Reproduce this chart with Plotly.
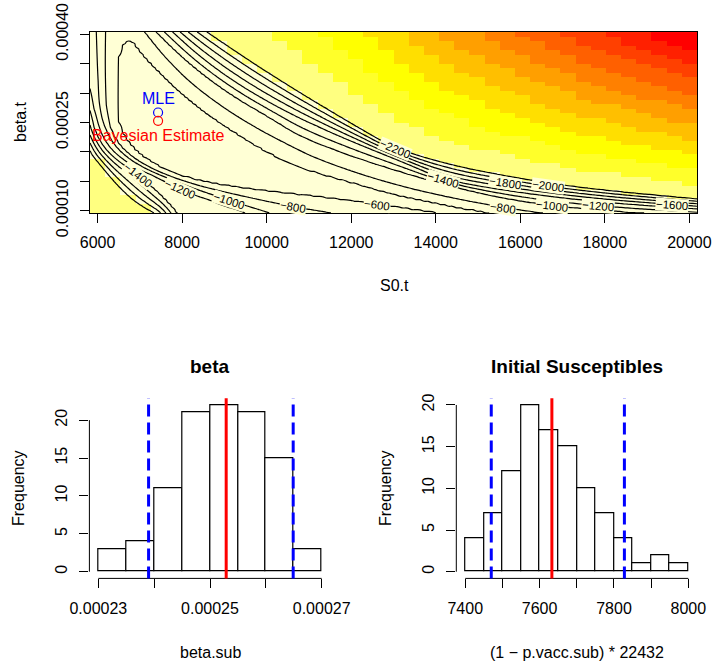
import numpy as np
import plotly.graph_objects as go

# ======================= data =======================
# grid of the likelihood image (40 x 40, as in the original image)
S0_t = np.linspace(6000, 20000, 40)
beta_t = np.linspace(0.0001, 0.0004, 40)

# traced contour paths (S0, beta) of the log-likelihood surface
mle_loglik = -450
contour_m600 = [(14340, 0.0000898), (14110, 0.0000949), (12620, 0.0001102), (11180, 0.0001238),
                (9620, 0.0001357), (8440, 0.0001492), (7610, 0.0001679), (7020, 0.0001934),
                (6670, 0.0002188), (6500, 0.0002443), (6460, 0.0002698), (6460, 0.0003207),
                (6480, 0.0003632), (6600, 0.0003852), (6730, 0.0003908), (6860, 0.0003869),
                (6980, 0.0003750), (7210, 0.0003547), (7490, 0.0003343), (7970, 0.0003003),
                (8560, 0.0002664), (9380, 0.0002273), (10090, 0.0001968), (10800, 0.0001730),
                (11980, 0.0001492), (13160, 0.0001255), (14340, 0.0001085), (15050, 0.0001000),
                (15520, 0.0000932), (15990, 0.0000847)]
upper_levels = [-800, -1000, -1400, -2200]
upper_m800 = [(7160, 0.0004005), (7380, 0.0003801), (7680, 0.0003547), (8200, 0.0003173),
              (8910, 0.0002783), (9740, 0.0002409), (10560, 0.0002104), (11180, 0.0001883),
              (12450, 0.0001560), (13870, 0.0001289), (15590, 0.0001051), (16700, 0.0000949)]
upper_m1000 = [(7440, 0.0004005), (7850, 0.0003716), (8440, 0.0003343), (9270, 0.0002919),
               (10090, 0.0002579), (10800, 0.0002256), (11980, 0.0001934), (13160, 0.0001662),
               (14340, 0.0001424), (15520, 0.0001221), (16750, 0.0001085), (18360, 0.0000983),
               (20170, 0.0000915)]
upper_m1400 = [(7830, 0.0004005), (8320, 0.0003683), (9030, 0.0003292), (9860, 0.0002919),
               (10800, 0.0002562), (11980, 0.0002188), (13160, 0.0001849), (14180, 0.0001526),
               (15520, 0.0001357), (16940, 0.0001221), (18360, 0.0001119), (20170, 0.0001034)]
upper_m2200 = [(8660, 0.0004005), (9150, 0.0003767), (9860, 0.0003428), (10800, 0.0003003),
               (11980, 0.0002494), (13040, 0.0002053), (14340, 0.0001781), (15640, 0.0001594),
               (16940, 0.0001441), (18360, 0.0001323), (20170, 0.0001204)]
lower_levels = [-800, -1000, -1200, -1400, -2200]
lower_m800 = [(6170, 0.0004005), (6170, 0.0003207), (6220, 0.0002613), (6360, 0.0002273),
              (6670, 0.0001985), (7260, 0.0001713), (8200, 0.0001458), (9380, 0.0001255),
              (10630, 0.0001068), (11510, 0.0000966), (11980, 0.0000898)]
lower_m1000 = [(5980, 0.0004005), (6010, 0.0003207), (6050, 0.0002698), (6200, 0.0002358),
               (6500, 0.0002019), (7020, 0.0001747), (7970, 0.0001458), (9120, 0.0001170),
               (9900, 0.0001000), (10330, 0.0000898)]
lower_m1200 = [(5700, 0.0004005), (5820, 0.0002986), (5960, 0.0002613), (6100, 0.0002273),
               (6380, 0.0001985), (6930, 0.0001713), (7490, 0.0001543), (7940, 0.0001374),
               (8680, 0.0001170), (9380, 0.0001000), (9740, 0.0000898)]
lower_m1400 = [(5460, 0.0004005), (5840, 0.0002613), (5980, 0.0002256), (6310, 0.0001934),
               (6930, 0.0001628), (7380, 0.0001340), (7680, 0.0001119), (7870, 0.0000949),
               (7970, 0.0000864)]
lower_m2200 = [(5370, 0.0002868), (5790, 0.0002019), (6080, 0.0001764), (6430, 0.0001458),
               (6790, 0.0001204), (7140, 0.0001034), (7380, 0.0000949), (7490, 0.0000864)]
ridge_line = [(6710, 0.0004005), (6740, 0.0003903), (6900, 0.0003547), (7140, 0.0003122),
              (7420, 0.0002664), (8200, 0.0002188), (9620, 0.0001713), (10800, 0.0001509),
              (12620, 0.0001238), (14110, 0.0001034), (15520, 0.0000796)]
# fall-off of the surface beyond the outer (-2200) contours, per screen pixel (from the colour bands)
falloff_upper_S0 = [5000, 8700, 10150, 15020, 20000, 22000]
falloff_upper = [40, 42, 47, 75, 113, 113]
falloff_lower = 45

# contour labels as printed on the reference (text, S0, beta, angle along the line)
label_text = ["\u22122200", "\u22121400", "\u22121800", "\u22122000", "\u2212800", "\u22121000",
              "\u22121200", "\u22121600", "\u22121400", "\u22121200", "\u22121000", "\u2212800",
              "\u2212600"]
label_S0 = [13040, 14180, 15640, 16660, 15590, 16750, 17840, 19580, 6950, 7940, 9120, 10630, 12620]
label_beta = [0.0002053, 0.0001526, 0.0001467, 0.0001416, 0.0001051, 0.0001085, 0.0001085,
              0.0001102, 0.0001610, 0.0001374, 0.0001170, 0.0001068, 0.0001102]
label_angle = [23, 16, 9, 8, 9, 7, 5, 4, 38, 24, 18, 10, 8]

mle_S0, mle_beta = 7431, 0.000267
bayes_S0, bayes_beta = 7431, 0.0002528

beta_bin_left = [0.00023, 0.000235, 0.00024, 0.000245, 0.00025, 0.000255, 0.00026, 0.000265]
beta_counts = [3, 4, 11, 21, 22, 21, 15, 3]
beta_mean = 0.0002529
beta_ci = [0.000239, 0.0002649]

s0_bin_left = [7400, 7450, 7500, 7550, 7600, 7650, 7700, 7750, 7800, 7850, 7900, 7950]
s0_counts = [4, 7, 12, 20, 17, 15, 10, 7, 4, 1, 2, 1]
s0_mean = 7633
s0_ci = [7470, 7828]

heat = ["#FF0000", "#FF2000", "#FF4000", "#FF6000", "#FF8000", "#FF9F00",
        "#FFBF00", "#FFDF00", "#FFFF00", "#FFFF2A", "#FFFF80", "#FFFFD5"]

# ======================= surface tables for the image / contour traces =======================
def to_px(pts):
    a = np.asarray(pts, float)
    return np.stack([96.7 + (a[:, 0] - 6000) * 0.042354, 210 - (a[:, 1] - 0.0001) * 589000], -1)

def chaikin(p, n=3, closed=False):
    for _ in range(n):
        q = p if not closed else np.vstack([p, p[:1]])
        a, b = q[:-1], q[1:]
        mid = np.empty((2 * len(a), 2))
        mid[0::2] = 0.75 * a + 0.25 * b
        mid[1::2] = 0.25 * a + 0.75 * b
        p = mid if closed else np.vstack([q[:1], mid, q[-1:]])
    return p

def extend(p, L=400.0):
    d0 = p[0] - p[1]; d0 /= np.hypot(*d0)
    d1 = p[-1] - p[-2]; d1 /= np.hypot(*d1)
    return np.vstack([p[0] + L * d0, p, p[-1] + L * d1])

def seg_dist(X, Y, poly):
    P = np.stack([X, Y], -1)[..., None, :]
    A = poly[:-1]; B = poly[1:]
    AB = B - A
    t = np.clip(((P - A) * AB).sum(-1) / (AB * AB).sum(-1), 0, 1)
    proj = A + t[..., None] * AB
    return np.sqrt(((P - proj) ** 2).sum(-1)).min(-1)

def inside(X, Y, poly):
    x = X[..., None]; y = Y[..., None]
    xi = poly[:, 0]; yi = poly[:, 1]
    xj = np.roll(xi, 1); yj = np.roll(yi, 1)
    cond = ((yi > y) != (yj > y)) & (x < (xj - xi) * (y - yi) / (yj - yi + 1e-12) + xi)
    return (cond.sum(-1) % 2) == 1

def poly_upper_curve(e):
    return np.vstack([e, [e[-1][0], 3000], [-3000, 3000], [-3000, e[0][1]]])

def poly_lower_curve(e):
    return np.vstack([e, [3000, e[-1][1]], [3000, -3000], [e[0][0], -3000]])

def surface(S, B):
    X = 96.7 + (S - 6000) * 0.042354
    Y = 210 - (B - 0.0001) * 589000
    loop = chaikin(to_px(contour_m600), 3, closed=True)
    loop_c = np.vstack([loop, loop[:1]])
    d600 = seg_dist(X, Y, loop_c)
    in600 = inside(X, Y, loop)
    mx, my = to_px([(mle_S0, mle_beta)])[0]
    dm = np.hypot(X - mx, Y - my)
    v_in = mle_loglik + (-600 - mle_loglik) * dm / (d600 + dm)

    def chain(curves, lev, polyf, far):
        levels = [-600] + lev
        ext = [extend(chaikin(to_px(c), 3)) for c in curves]
        d = [d600] + [seg_dist(X, Y, e) for e in ext]
        ins = [inside(X, Y, polyf(e)) for e in ext]
        out = levels[-1] - far * d[-1]
        for k in range(len(curves) - 1, -1, -1):
            val = levels[k] + (levels[k + 1] - levels[k]) * d[k] / (d[k] + d[k + 1])
            out = np.where(ins[k], val, out)
        return out

    far_u = np.interp(S, falloff_upper_S0, falloff_upper)
    vu = chain([upper_m800, upper_m1000, upper_m1400, upper_m2200], upper_levels,
               poly_upper_curve, far_u)
    vl = chain([lower_m800, lower_m1000, lower_m1200, lower_m1400, lower_m2200], lower_levels,
               poly_lower_curve, falloff_lower)
    r = extend(to_px(ridge_line))
    up = inside(X, Y, np.vstack([r, [3000, r[-1][1]], [3000, -3000], [r[0][0], -3000]]))
    v = np.where(up, vu, vl)
    return np.where(in600, v_in, v)

SS, BB = np.meshgrid(S0_t, beta_t)
loglik = surface(SS, BB)
# finer table of the same surface for smooth contour lines
S0_f = np.linspace(5821, 20179, 150)
beta_f = np.linspace(0.0000962, 0.000404, 110)
SF, BF = np.meshgrid(S0_f, beta_f)
loglik_f = surface(SF, BF)

# ======================= figure =======================
W, H = 713, 661
def px(x): return x / W
def py(y): return 1 - y / H

FONT = "Liberation Sans, Arial, Helvetica, sans-serif"
cs = []
for i, c in enumerate(heat):
    cs.append([i / 12, c])
    cs.append([(i + 1) / 12, c])

fig = go.Figure()
fig.add_trace(go.Heatmap(x=S0_t, y=beta_t, z=loglik, colorscale=cs,
                         zmin=float(loglik.min()), zmax=float(loglik.max()),
                         showscale=False, zsmooth=False, hoverinfo="skip", xaxis="x", yaxis="y"))
fig.add_trace(go.Contour(x=S0_f, y=beta_f, z=loglik_f, showscale=False,
                         contours=dict(start=-2200, end=-600, size=200, coloring="none",
                                       showlabels=False),
                         line=dict(color="black", width=1.2, smoothing=1.0), hoverinfo="skip",
                         xaxis="x", yaxis="y"))
fig.add_trace(go.Scatter(x=[mle_S0], y=[mle_beta], mode="markers",
                         marker=dict(symbol="circle-open", size=9, color="blue", line=dict(width=1.2)),
                         xaxis="x", yaxis="y", hoverinfo="skip"))
fig.add_trace(go.Scatter(x=[bayes_S0], y=[bayes_beta], mode="markers",
                         marker=dict(symbol="circle-open", size=9, color="red", line=dict(width=1.2)),
                         xaxis="x", yaxis="y", hoverinfo="skip"))

bw1 = 0.000005
fig.add_trace(go.Bar(x=[b + bw1 / 2 for b in beta_bin_left], y=beta_counts, width=bw1,
                     marker=dict(color="white", line=dict(color="black", width=1.2)),
                     xaxis="x2", yaxis="y2", hoverinfo="skip"))
bw2 = 50
fig.add_trace(go.Bar(x=[b + bw2 / 2 for b in s0_bin_left], y=s0_counts, width=bw2,
                     marker=dict(color="white", line=dict(color="black", width=1.2)),
                     xaxis="x3", yaxis="y3", hoverinfo="skip"))

tickfont = dict(size=16, color="black", family=FONT)
common = dict(ticks="outside", ticklen=9, tickcolor="black", tickwidth=1, automargin=False,
              tickfont=tickfont, showgrid=False, zeroline=False)

top_x = [6000, 8000, 10000, 12000, 14000, 16000, 18000, 20000]
top_y = [0.0001, 0.00015, 0.0002, 0.00025, 0.0003, 0.00035, 0.0004]
fig.update_layout(
    width=W, height=H, margin=dict(l=0, r=0, t=0, b=0, pad=0), autosize=False,
    paper_bgcolor="white", plot_bgcolor="white", showlegend=False,
    bargap=0,
    xaxis=dict(domain=[px(90), px(697)], range=[5820.5, 20179.5], anchor="y",
               tickvals=top_x, ticktext=[str(v) for v in top_x],
               showline=True, mirror=True, linecolor="black", linewidth=1,
               ticklabelstandoff=6, **common),
    yaxis=dict(domain=[py(213), py(32)], range=[0.0000961, 0.0004039], anchor="x",
               tickvals=top_y, ticktext=["0.00010", "", "", "0.00025", "", "", "0.00040"],
               tickangle=-90, showline=True, mirror=True, linecolor="black", linewidth=1,
               ticklabelstandoff=6, **common),
    xaxis2=dict(domain=[px(89.4), px(330.6)], range=[0.0002284, 0.0002716], anchor="y2",
                tickvals=[0.00023, 0.00024, 0.00025, 0.00026, 0.00027],
                ticktext=["0.00023", "", "0.00025", "", "0.00027"], showline=False,
                ticklabelstandoff=6, **common),
    yaxis2=dict(domain=[py(578.4), py(398.3)], range=[-0.88, 22.88], anchor="x2",
                tickvals=[0, 5, 10, 15, 20], ticktext=["0", "5", "10", "15", "20"],
                tickangle=-90, showline=False, ticklabelstandoff=6, **common),
    xaxis3=dict(domain=[px(456.3), px(697.3)], range=[7376, 8024], anchor="y3",
                tickvals=[7400, 7500, 7600, 7700, 7800, 7900, 8000],
                ticktext=["7400", "", "7600", "", "7800", "", "8000"], showline=False,
                ticklabelstandoff=6, **common),
    yaxis3=dict(domain=[py(578.4), py(398.3)], range=[-0.8, 20.8], anchor="x3",
                tickvals=[0, 5, 10, 15, 20], ticktext=["0", "5", "10", "15", "20"],
                tickangle=-90, showline=False, ticklabelstandoff=6, **common),
)

shapes = []
y_ax = py(578.4)
shapes.append(dict(type="line", xref="x2", yref="paper", x0=0.00023, x1=0.00027, y0=y_ax, y1=y_ax,
                   line=dict(color="black", width=1)))
shapes.append(dict(type="line", xref="paper", yref="y2", x0=px(89.4), x1=px(89.4), y0=0, y1=20,
                   line=dict(color="black", width=1)))
shapes.append(dict(type="line", xref="x3", yref="paper", x0=7400, x1=8000, y0=y_ax, y1=y_ax,
                   line=dict(color="black", width=1)))
shapes.append(dict(type="line", xref="paper", yref="y3", x0=px(456.3), x1=px(456.3), y0=0, y1=20,
                   line=dict(color="black", width=1)))
for xr, yr, m, ci in [("x2", "y2 domain", beta_mean, beta_ci), ("x3", "y3 domain", s0_mean, s0_ci)]:
    shapes.append(dict(type="line", xref=xr, yref=yr, x0=m, x1=m, y0=0, y1=1,
                       line=dict(color="red", width=3)))
    for c in ci:
        shapes.append(dict(type="line", xref=xr, yref=yr, x0=c, x1=c, y0=0, y1=1,
                           line=dict(color="blue", width=3, dash="12px,6px")))
fig.update_layout(shapes=shapes)

ann = []
def A(text, x, y, size=16, angle=0, color="black"):
    ann.append(dict(text=text, x=px(x), y=py(y), xref="paper", yref="paper", showarrow=False,
                    xanchor="center", yanchor="middle", textangle=angle,
                    font=dict(size=size, color=color, family=FONT)))
A("S0.t", 394, 285)
A("beta.t", 20, 122, angle=-90)
A("<b>beta</b>", 210, 366, size=19)
A("beta.sub", 210, 652)
A("Frequency", 18, 488, angle=-90)
A("<b>Initial Susceptibles</b>", 576.8, 366, size=19)
A("(1 \u2212 p.vacc.sub) * 22432", 576.8, 652)
A("Frequency", 385, 488, angle=-90)
for t, s, b, a in zip(label_text, label_S0, label_beta, label_angle):
    ann.append(dict(text=t, x=s, y=b, xref="x", yref="y", showarrow=False, textangle=a,
                    bgcolor="#FFFFD5", borderpad=0,
                    font=dict(size=11.5, color="black", family=FONT)))
ann.append(dict(text="MLE", x=mle_S0, y=mle_beta, xref="x", yref="y", showarrow=False,
                yshift=14, font=dict(size=16, color="blue", family=FONT)))
ann.append(dict(text="Bayesian Estimate", x=bayes_S0, y=bayes_beta, xref="x", yref="y", showarrow=False,
                yshift=-15, font=dict(size=16, color="red", family=FONT)))
fig.update_layout(annotations=ann)

fig.write_html("out.html", config={"displayModeBar": False, "responsive": False},
               post_script="document.body.style.margin='0px';document.body.style.padding='0px';")
